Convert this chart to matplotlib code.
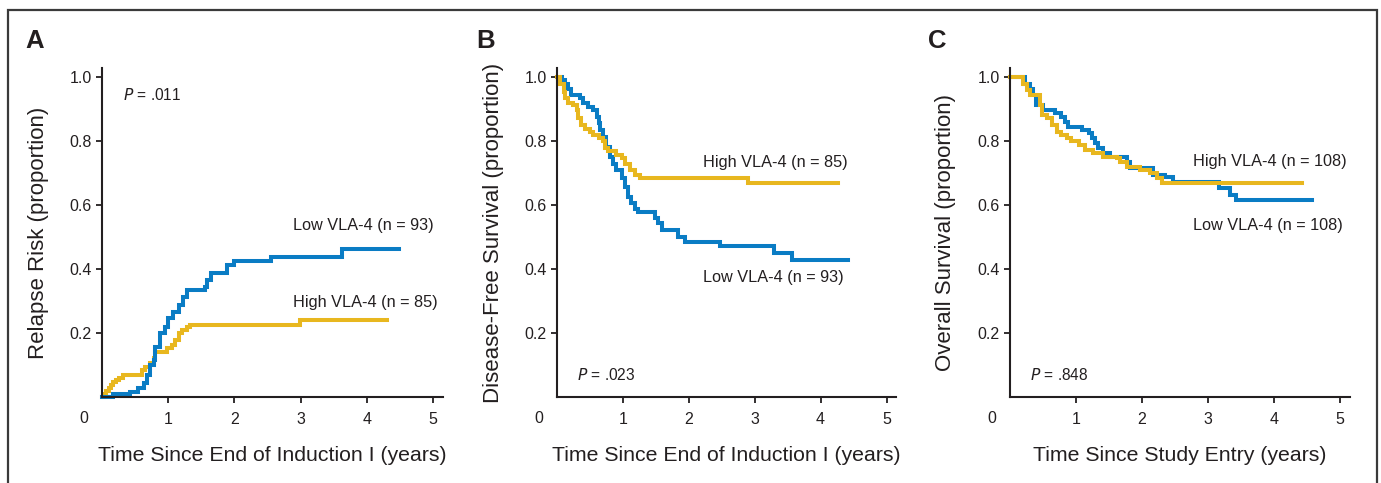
import matplotlib
matplotlib.use("Agg")
import matplotlib.pyplot as plt
from matplotlib import font_manager
from matplotlib.patches import Rectangle

# ---------------- data ----------------
a_low_t = [0, 0.17, 0.42, 0.55, 0.63, 0.68, 0.73, 0.78, 0.80, 0.88, 0.95, 1.0, 1.08, 1.16, 1.23, 1.28, 1.56, 1.59, 1.64, 1.89, 1.99, 2.55, 3.63, 4.49]
a_low_v = [0, 0.01, 0.018, 0.028, 0.044, 0.07, 0.10, 0.117, 0.158, 0.2, 0.22, 0.247, 0.268, 0.29, 0.315, 0.335, 0.346, 0.367, 0.39, 0.414, 0.427, 0.44, 0.464, 0.464]
a_high_t = [0, 0.03, 0.06, 0.1, 0.13, 0.17, 0.21, 0.25, 0.32, 0.6, 0.65, 0.73, 0.78, 0.80, 0.98, 1.06, 1.11, 1.16, 1.21, 1.28, 1.33, 2.99, 4.31]
a_high_v = [0, 0.01, 0.02, 0.03, 0.04, 0.048, 0.055, 0.06, 0.07, 0.085, 0.096, 0.106, 0.122, 0.143, 0.153, 0.164, 0.18, 0.2, 0.21, 0.22, 0.226, 0.242, 0.242]

b_low_t = [0, 0.07, 0.12, 0.17, 0.22, 0.35, 0.4, 0.47, 0.55, 0.6, 0.63, 0.65, 0.7, 0.75, 0.8, 0.85, 0.9, 0.98, 1.03, 1.08, 1.13, 1.18, 1.23, 1.48, 1.54, 1.59, 1.84, 1.94, 2.48, 3.3, 3.57, 4.41]
b_low_v = [1.0, 0.992, 0.98, 0.965, 0.945, 0.934, 0.92, 0.908, 0.898, 0.877, 0.856, 0.835, 0.815, 0.783, 0.752, 0.73, 0.71, 0.684, 0.658, 0.627, 0.606, 0.59, 0.58, 0.56, 0.544, 0.523, 0.502, 0.486, 0.474, 0.452, 0.429, 0.429]
b_high_t = [0, 0.045, 0.1, 0.12, 0.17, 0.25, 0.3, 0.32, 0.37, 0.42, 0.5, 0.55, 0.63, 0.7, 0.73, 0.78, 0.9, 0.98, 1.03, 1.11, 1.18, 1.26, 2.9, 4.26]
b_high_v = [1.0, 0.98, 0.955, 0.934, 0.919, 0.914, 0.898, 0.872, 0.851, 0.84, 0.83, 0.82, 0.81, 0.8, 0.78, 0.77, 0.757, 0.747, 0.73, 0.71, 0.695, 0.684, 0.669, 0.669]

c_low_t = [0, 0.23, 0.3, 0.35, 0.4, 0.5, 0.68, 0.78, 0.83, 0.88, 1.09, 1.19, 1.24, 1.29, 1.34, 1.41, 1.52, 1.77, 1.82, 2.17, 2.35, 2.47, 3.16, 3.33, 3.43, 4.57]
c_low_v = [1.0, 0.98, 0.965, 0.945, 0.914, 0.898, 0.8875, 0.877, 0.86, 0.846, 0.836, 0.825, 0.81, 0.794, 0.778, 0.7625, 0.752, 0.736, 0.716, 0.695, 0.69, 0.674, 0.653, 0.632, 0.617, 0.617]
c_high_t = [0, 0.2, 0.25, 0.3, 0.45, 0.48, 0.56, 0.63, 0.71, 0.78, 0.86, 0.93, 1.04, 1.14, 1.26, 1.41, 1.62, 1.67, 1.77, 1.97, 2.12, 2.22, 2.3, 4.42]
c_high_v = [1.0, 0.98, 0.96, 0.945, 0.914, 0.883, 0.872, 0.851, 0.83, 0.82, 0.81, 0.8, 0.789, 0.773, 0.7625, 0.752, 0.747, 0.736, 0.72, 0.71, 0.7, 0.684, 0.669, 0.669]

x_ticks = [1, 2, 3, 4, 5]
y_ticks = [0.2, 0.4, 0.6, 0.8, 1.0]
y_tick_labels = ["0.2", "0.4", "0.6", "0.8", "1.0"]

panel_letters = ["A", "B", "C"]
x_labels = ["Time Since End of Induction I (years)",
            "Time Since End of Induction I (years)",
            "Time Since Study Entry (years)"]
y_labels = ["Relapse Risk (proportion)",
            "Disease-Free Survival (proportion)",
            "Overall Survival (proportion)"]
p_values = [".011", ".023", ".848"]
low_labels = ["Low VLA-4 (n = 93)", "Low VLA-4 (n = 93)", "Low VLA-4 (n = 108)"]
high_labels = ["High VLA-4 (n = 85)", "High VLA-4 (n = 85)", "High VLA-4 (n = 108)"]

# ---------------- style ----------------
BLUE = "#0a7cc4"
GOLD = "#e8b71f"
TXT = "#231f20"

names = {f.name for f in font_manager.fontManager.ttflist}
NARROW = "Liberation Sans Narrow" if "Liberation Sans Narrow" in names else "Liberation Sans"
XLAB_SIZE = 16 if NARROW == "Liberation Sans Narrow" else 15.3
REG = "Liberation Sans"

W, H = 1381, 483
fig = plt.figure(figsize=(W / 100, H / 100), dpi=100)

# axes layout in pixels: (left px of x=0, px per year)
layouts = [(102, 66.2), (557, 65.9), (1010, 66.0)]
y0_px = 397.3
py_per = 320.0
xmax, ymax = 5.15, 1.03

curves = [
    ((a_low_t, a_low_v), (a_high_t, a_high_v)),
    ((b_low_t, b_low_v), (b_high_t, b_high_v)),
    ((c_low_t, c_low_v), (c_high_t, c_high_v)),
]
# annotation positions (data coords)
p_pos = [(0.32, 0.945), (0.30, 0.07), (0.30, 0.07)]
low_pos = [(2.88, 0.538), (2.215, 0.373), (2.77, 0.536)]
high_pos = [(2.88, 0.296), (2.215, 0.733), (2.77, 0.736)]
ylab_x_px = [49, 504, 956]
letter_x_px = [25, 476, 928]

for i in range(3):
    left_px, ppx = layouts[i]
    width_px = xmax * ppx
    ax = fig.add_axes([left_px / W, (H - y0_px) / H, width_px / W, ymax * py_per / H])
    ax.set_xlim(0, xmax)
    ax.set_ylim(0, ymax)
    for s in ["top", "right"]:
        ax.spines[s].set_visible(False)
    for s in ["left", "bottom"]:
        ax.spines[s].set_linewidth(1.5)
        ax.spines[s].set_color(TXT)
    ax.set_xticks(x_ticks)
    ax.set_xticklabels([str(t) for t in x_ticks])
    ax.set_yticks(y_ticks)
    ax.set_yticklabels(y_tick_labels)
    ax.tick_params(axis="both", direction="out", length=4.5, width=1.3, color=TXT,
                   labelsize=11.5, labelcolor=TXT)
    ax.tick_params(axis="x", pad=6)
    ax.tick_params(axis="y", pad=3)
    for lab in ax.get_xticklabels() + ax.get_yticklabels():
        lab.set_family(REG)
    # corner zero
    ax.text(-0.27, -0.063, "0", transform=ax.get_xaxis_transform(), ha="center", va="center",
            fontsize=11.5, color=TXT, family=REG)

    (lt, lv), (ht, hv) = curves[i]
    if i == 0:
        ax.step(ht, hv, where="post", color=GOLD, lw=2.9, solid_joinstyle="miter", clip_on=False)
        ax.step(lt, lv, where="post", color=BLUE, lw=2.9, solid_joinstyle="miter", clip_on=False)
    else:
        ax.step(lt, lv, where="post", color=BLUE, lw=2.9, solid_joinstyle="miter", clip_on=False)
        ax.step(ht, hv, where="post", color=GOLD, lw=2.9, solid_joinstyle="miter", clip_on=False)

    ax.text(*p_pos[i], r"$\it{P}$" + " = " + p_values[i], fontsize=11.2, color=TXT, family=REG,
            ha="left", va="center")
    ax.text(*low_pos[i], low_labels[i], fontsize=11.7, color=TXT, family=REG, ha="left", va="center")
    ax.text(*high_pos[i], high_labels[i], fontsize=11.7, color=TXT, family=REG, ha="left", va="center")

    ax.set_xlabel(x_labels[i], fontsize=XLAB_SIZE, color=TXT, family=NARROW)
    ax.xaxis.set_label_coords(0.5, -0.148)
    ax.xaxis.label.set_va("top")
    ax.set_ylabel(y_labels[i], fontsize=16, color=TXT, family=NARROW)
    ax.yaxis.set_label_coords((ylab_x_px[i] - left_px) / width_px, 0.5)

    fig.text(letter_x_px[i] / W, 1 - 48 / H, panel_letters[i], fontsize=18.5, fontweight="bold",
             color=TXT, family=REG, ha="left", va="baseline")

# outer frame
fig.patches.append(Rectangle((8 / W, -0.1), (1377 - 8) / W, 1.1 - 10 / H,
                             transform=fig.transFigure, fill=False, lw=1.6,
                             edgecolor="#3a3a3a", clip_on=False))

fig.savefig("out.png", dpi=100)
